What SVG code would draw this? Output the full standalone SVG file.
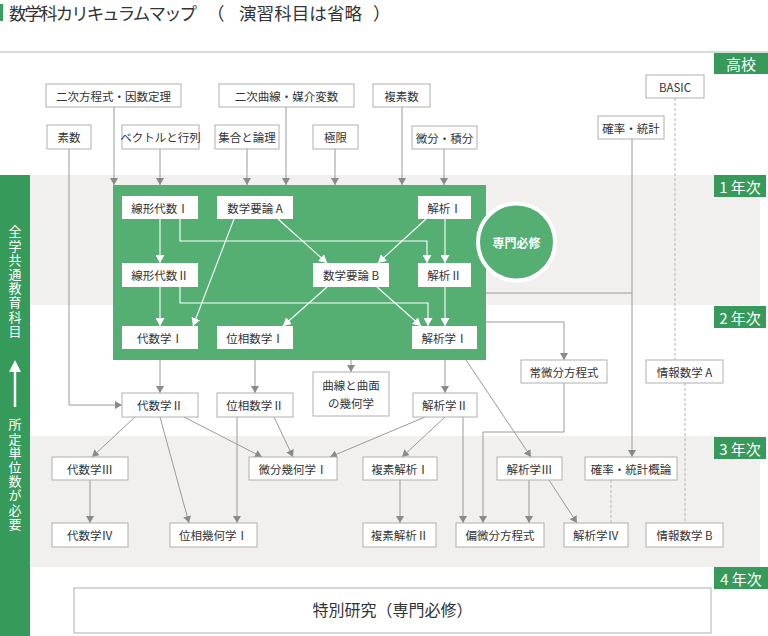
<svg xmlns="http://www.w3.org/2000/svg" width="768" height="636" viewBox="0 0 768 636">
<defs>
<style>
text{font-family:"Noto Sans CJK JP","Noto Sans",sans-serif;}
.tt{font-size:17.5px;fill:#333;}
.nd rect{fill:#fff;stroke:#b0b0b0;stroke-width:1;}
.gn rect{fill:#fff;stroke:none;}
.nd text,.gn text{font-size:11.5px;fill:#333;text-anchor:middle;dominant-baseline:central;}
.c{fill:none;stroke:#9a9a9a;stroke-width:1;}
.ca{fill:none;stroke:#9a9a9a;stroke-width:1;marker-end:url(#ga);}
.cd{fill:none;stroke:#b5b5b5;stroke-width:1;stroke-dasharray:3 2;}
.w{fill:none;stroke:#fff;stroke-width:1.1;marker-end:url(#wa);}
.yl rect{fill:#359a5a;}
.yl text{font-size:15px;fill:#fff;text-anchor:middle;dominant-baseline:central;}
.vt{font-size:13px;fill:#fff;writing-mode:vertical-rl;letter-spacing:1.2px;}
</style>
<marker id="ga" markerUnits="userSpaceOnUse" markerWidth="8" markerHeight="8" refX="7" refY="4" orient="auto" viewBox="0 0 8 8"><path d="M0,0 L7,4 L0,8 z" fill="#8a8a8a"/></marker>
<marker id="wa" markerUnits="userSpaceOnUse" markerWidth="9" markerHeight="9" refX="8" refY="4.5" orient="auto" viewBox="0 0 9 9"><path d="M0,0 L8,4.5 L0,9 z" fill="#fff"/></marker>
</defs>

<rect width="768" height="636" fill="#fff"/>

<!-- title -->
<g id="title">
<rect x="0" y="4" width="3" height="17" fill="#3aa062"/>
<text class="tt" x="9" y="19.5" textLength="188" lengthAdjust="spacing">数学科カリキュラムマップ</text>
<text class="tt" x="207" y="19.5">（</text>
<text class="tt" x="239" y="19.5" textLength="123" lengthAdjust="spacing">演習科目は省略</text>
<text class="tt" x="373" y="19.5">）</text>
<line x1="0" y1="52" x2="768" y2="52" stroke="#b5b5b5" stroke-width="1.2"/>
</g>

<!-- bands -->
<g id="bands">
<rect x="30" y="175" width="730" height="130" fill="#f1f0ee"/>
<rect x="30" y="436" width="730" height="131" fill="#f1f0ee"/>
</g>

<!-- left bar -->
<g id="leftbar">
<rect x="0" y="175" width="30" height="461" fill="#359a5a"/>
<text class="vt" x="15" y="225">全学共通教育科目</text>
<line x1="15" y1="370" x2="15" y2="407" stroke="#fff" stroke-width="2.5"/>
<path d="M15,360 L21,372 L9,372 z" fill="#fff"/>
<text class="vt" x="15" y="418">所定単位数が必要</text>
</g>

<!-- year labels -->
<g id="label-hs" class="yl"><rect x="714" y="53" width="54" height="21"/><text x="741" y="63.5">高校</text></g>
<g id="label-y1" class="yl"><rect x="714" y="175" width="52" height="22"/><text x="740" y="186">1 年次</text></g>
<g id="label-y2" class="yl"><rect x="714" y="306" width="52" height="22"/><text x="740" y="317">2 年次</text></g>
<g id="label-y3" class="yl"><rect x="714" y="437" width="52" height="22"/><text x="740" y="448">3 年次</text></g>
<g id="label-y4" class="yl"><rect x="714" y="567" width="54" height="22"/><text x="741" y="578">4 年次</text></g>

<!-- green box -->
<g id="senmon-box">
<rect x="113" y="185" width="373" height="175" fill="#55af73"/>
</g>
<g id="senmon-circle">
<circle cx="516.5" cy="242" r="38.5" fill="#55af73" stroke="#fff" stroke-width="4"/>
<text x="516.5" y="242" font-size="12" font-weight="bold" fill="#fff" text-anchor="middle" dominant-baseline="central">専門必修</text>
</g>

<!-- connectors -->
<g id="connectors">
<polyline class="ca" points="69,149 69,405 122,405"/>
<polyline class="ca" points="114,107 114,185"/>
<polyline class="ca" points="160,149 160,185"/>
<polyline class="ca" points="247,149 247,185"/>
<polyline class="ca" points="286,107 286,185"/>
<polyline class="ca" points="335,149 335,185"/>
<polyline class="ca" points="402,107 402,185"/>
<polyline class="ca" points="444,149 444,185"/>
<polyline class="ca" points="632,139 632,457"/>
<polyline class="c" points="486,293 632,293"/>
<line class="cd" x1="675" y1="98" x2="675" y2="360"/>
<line class="cd" x1="685" y1="383" x2="685" y2="523"/>
<line class="cd" x1="611" y1="480" x2="611" y2="523"/>
<polyline class="ca" points="351,360 351,372"/>
<polyline class="ca" points="160,360 160,393"/>
<polyline class="ca" points="255,360 255,393"/>
<polyline class="ca" points="445,360 445,393"/>
<polyline class="ca" points="486,322 564,322 564,360"/>
<polyline class="ca" points="466,360 531,457"/>
<polyline class="ca" points="135,417 92,457"/>
<polyline class="ca" points="160,417 189,523"/>
<polyline class="ca" points="184,417 262,457"/>
<polyline class="ca" points="274,417 293,457"/>
<polyline class="ca" points="237,417 237,523"/>
<polyline class="ca" points="425,417 330,457"/>
<polyline class="ca" points="445,417 402,457"/>
<polyline class="ca" points="463,417 463,523"/>
<polyline class="ca" points="564,383 564,432 483,432 483,523"/>
<polyline class="ca" points="529,480 529,523"/>
<polyline class="ca" points="549,480 577,523"/>
<polyline class="ca" points="90,480 90,523"/>
<polyline class="ca" points="400,480 400,523"/>
<!-- white inside green -->
<polyline class="w" points="160,219 160,263"/>
<polyline class="w" points="180,219 180,241 427,241 427,263"/>
<polyline class="w" points="160,287 160,326"/>
<polyline class="w" points="180,287 180,303 428,303 428,326"/>
<polyline class="w" points="234,219 193,326"/>
<polyline class="w" points="278,219 327,263"/>
<polyline class="w" points="426,219 378,263"/>
<polyline class="w" points="445,219 445,263"/>
<polyline class="w" points="327,287 283,326"/>
<polyline class="w" points="377,287 421,326"/>
<polyline class="w" points="445,287 445,326"/>
</g>

<!-- high school nodes -->
<g id="n-quad" class="nd"><rect x="46" y="84" width="135" height="23"/><text x="113.5" y="95.5">二次方程式・因数定理</text></g>
<g id="n-conic" class="nd"><rect x="219" y="84" width="135" height="23"/><text x="286.5" y="95.5">二次曲線・媒介変数</text></g>
<g id="n-cnum" class="nd"><rect x="373" y="84" width="57" height="23"/><text x="401.5" y="95.5">複素数</text></g>
<g id="n-basic" class="nd"><rect x="646" y="75" width="58" height="23"/><text x="675" y="86.5">BASIC</text></g>
<g id="n-prime" class="nd"><rect x="47" y="125" width="44" height="24"/><text x="69" y="137">素数</text></g>
<g id="n-vec" class="nd"><rect x="122" y="125" width="77" height="24"/><text x="160.5" y="137">ベクトルと行列</text></g>
<g id="n-set" class="nd"><rect x="215" y="125" width="64" height="24"/><text x="247" y="137">集合と論理</text></g>
<g id="n-lim" class="nd"><rect x="313" y="125" width="45" height="24"/><text x="335.5" y="137">極限</text></g>
<g id="n-calc" class="nd"><rect x="412" y="126" width="65" height="23"/><text x="444.5" y="137.5">微分・積分</text></g>
<g id="n-prob" class="nd"><rect x="598" y="116" width="66" height="23"/><text x="631" y="127.5">確率・統計</text></g>

<!-- green-box nodes -->
<g id="n-la1" class="gn"><rect x="122" y="196" width="76" height="23"/><text x="160" y="207.5">線形代数Ⅰ</text></g>
<g id="n-ma" class="gn"><rect x="217" y="196" width="76" height="23"/><text x="255" y="207.5">数学要論 A</text></g>
<g id="n-an1" class="gn"><rect x="418" y="196" width="53" height="23"/><text x="444.5" y="207.5">解析Ⅰ</text></g>
<g id="n-la2" class="gn"><rect x="122" y="263" width="76" height="24"/><text x="160" y="275">線形代数Ⅱ</text></g>
<g id="n-mb" class="gn"><rect x="313" y="263" width="76" height="24"/><text x="351" y="275">数学要論 B</text></g>
<g id="n-an2" class="gn"><rect x="418" y="263" width="53" height="24"/><text x="444.5" y="275">解析Ⅱ</text></g>
<g id="n-alg1" class="gn"><rect x="122" y="326" width="76" height="23"/><text x="160" y="337.5">代数学Ⅰ</text></g>
<g id="n-top1" class="gn"><rect x="217" y="326" width="76" height="23"/><text x="255" y="337.5">位相数学Ⅰ</text></g>
<g id="n-ana1" class="gn"><rect x="412" y="326" width="65" height="23"/><text x="444.5" y="337.5">解析学Ⅰ</text></g>

<!-- later nodes -->
<g id="n-curves" class="nd"><rect x="313" y="372" width="76" height="44"/><text x="351" y="385">曲線と曲面</text><text x="351" y="403">の幾何学</text></g>
<g id="n-alg2" class="nd"><rect x="122" y="393" width="76" height="24"/><text x="160" y="405">代数学Ⅱ</text></g>
<g id="n-top2" class="nd"><rect x="217" y="393" width="76" height="24"/><text x="255" y="405">位相数学Ⅱ</text></g>
<g id="n-ana2" class="nd"><rect x="413" y="393" width="64" height="24"/><text x="445" y="405">解析学Ⅱ</text></g>
<g id="n-ode" class="nd"><rect x="521" y="360" width="86" height="23"/><text x="564" y="371.5">常微分方程式</text></g>
<g id="n-infoA" class="nd"><rect x="646" y="360" width="77" height="23"/><text x="684.5" y="371.5">情報数学 A</text></g>
<g id="n-alg3" class="nd"><rect x="52" y="457" width="76" height="23"/><text x="90" y="468.5">代数学Ⅲ</text></g>
<g id="n-diffgeo" class="nd"><rect x="249" y="457" width="88" height="23"/><text x="293" y="468.5">微分幾何学Ⅰ</text></g>
<g id="n-cx1" class="nd"><rect x="363" y="457" width="74" height="23"/><text x="400" y="468.5">複素解析Ⅰ</text></g>
<g id="n-ana3" class="nd"><rect x="497" y="457" width="65" height="23"/><text x="529.5" y="468.5">解析学Ⅲ</text></g>
<g id="n-probth" class="nd"><rect x="585" y="457" width="92" height="23"/><text x="631" y="468.5">確率・統計概論</text></g>
<g id="n-alg4" class="nd"><rect x="52" y="523" width="76" height="24"/><text x="90" y="535">代数学Ⅳ</text></g>
<g id="n-topgeo" class="nd"><rect x="170" y="523" width="87" height="24"/><text x="213.5" y="535">位相幾何学Ⅰ</text></g>
<g id="n-cx2" class="nd"><rect x="363" y="523" width="73" height="24"/><text x="399.5" y="535">複素解析Ⅱ</text></g>
<g id="n-pde" class="nd"><rect x="456" y="523" width="88" height="24"/><text x="500" y="535">偏微分方程式</text></g>
<g id="n-ana4" class="nd"><rect x="564" y="523" width="64" height="24"/><text x="596" y="535">解析学Ⅳ</text></g>
<g id="n-infoB" class="nd"><rect x="646" y="523" width="77" height="24"/><text x="684.5" y="535">情報数学 B</text></g>
<g id="n-research" class="nd"><rect x="74" y="588" width="637" height="45"/><text x="392.5" y="609" style="font-size:16px">特別研究（専門必修）</text></g>
</svg>
